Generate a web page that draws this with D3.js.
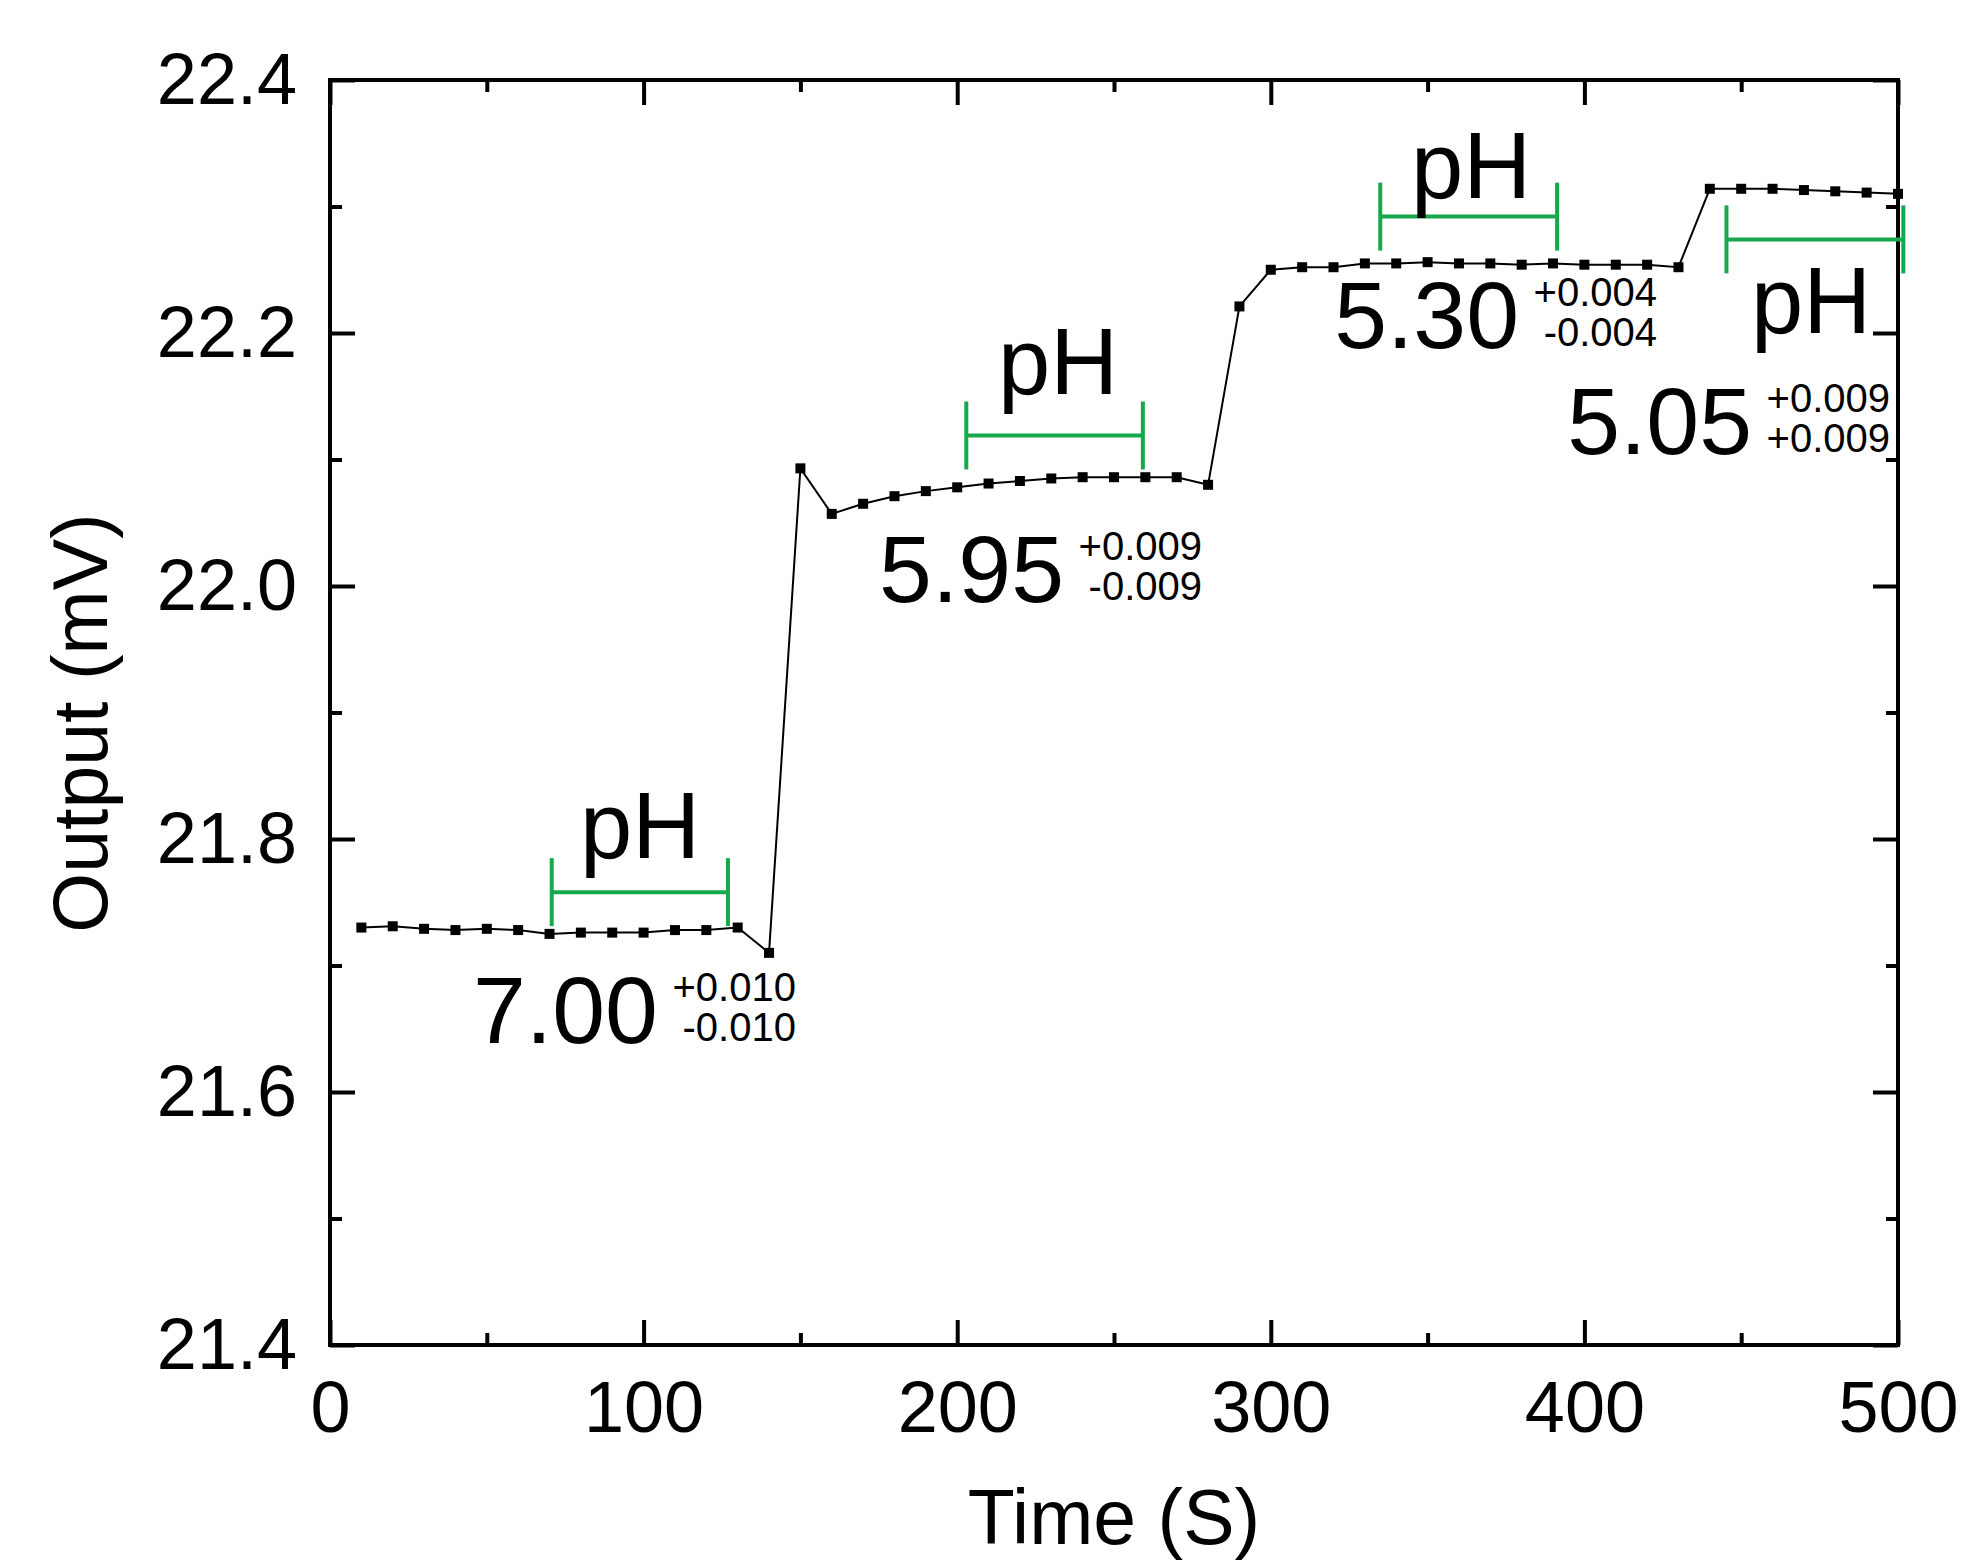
<!DOCTYPE html>
<html>
<head>
<meta charset="utf-8">
<script src="https://cdn.jsdelivr.net/npm/d3@7"></script>
<style>
  body { margin: 0; background: #fff; }
  svg { display: block; font-family: "Liberation Sans", Arial, sans-serif; }
</style>
</head>
<body>
<div id="chart"></div>
<script>
// data
var timeValues = [10, 20, 30, 40, 50, 60, 70, 80, 90, 100,
  110, 120, 130, 140, 150, 160, 170, 180, 190, 200,
  210, 220, 230, 240, 250, 260, 270, 280, 290, 300,
  310, 320, 330, 340, 350, 360, 370, 380, 390, 400,
  410, 420, 430, 440, 450, 460, 470, 480, 490, 500];
var outputValues = [21.730, 21.731, 21.729, 21.728, 21.729, 21.728, 21.725, 21.726, 21.726, 21.726,
  21.728, 21.728, 21.730, 21.710, 22.093, 22.057, 22.065, 22.071, 22.075, 22.078,
  22.081, 22.083, 22.085, 22.086, 22.086, 22.086, 22.086, 22.080, 22.221, 22.250,
  22.252, 22.252, 22.255, 22.255, 22.256, 22.255, 22.255, 22.254, 22.255, 22.254,
  22.254, 22.254, 22.252, 22.314, 22.314, 22.314, 22.313, 22.312, 22.311, 22.310];

var xTicks = [0, 100, 200, 300, 400, 500];
var xMinorTicks = [50, 150, 250, 350, 450];
var yTicks = [21.4, 21.6, 21.8, 22.0, 22.2, 22.4];
var yMinorTicks = [21.5, 21.7, 21.9, 22.1, 22.3];

// green brackets (time range + level)
var bracketStart = [70.7, 202.9, 334.9, 445.3];
var bracketEnd = [126.9, 259.2, 391.3, 501.7];
var bracketLevel = [21.758, 22.119, 22.292, 22.274];

// "pH" labels
var phLabelTime = [98.9, 232.2, 363.9, 472.3];
var phLabelLevel = [21.785, 22.152, 22.307, 22.200];

// pH values with errors
var phValues = ["7.00", "5.95", "5.30", "5.05"];
var errPlus = ["+0.010", "+0.009", "+0.004", "+0.009"];
var errMinus = ["-0.010", "-0.009", "-0.004", "+0.009"];
var phValueTime = [45.6, 175.1, 320.2, 394.5];
var phValueLevel = [21.639, 21.987, 22.188, 22.104];

// settings
var svgWidth = 1962;
var svgHeight = 1565;
var margin = { top: 80, right: 64, bottom: 220, left: 330 };
var width = svgWidth - margin.left - margin.right;
var height = svgHeight - margin.top - margin.bottom;
var green = "#17a84c";
var tickFont = 72;
var titleFont = 77;

var svg = d3.select("#chart").append("svg")
  .attr("width", svgWidth)
  .attr("height", svgHeight);

svg.append("rect").attr("width", svgWidth).attr("height", svgHeight).attr("fill", "#fff");

var chartGroup = svg.append("g")
  .attr("transform", `translate(${margin.left}, ${margin.top})`);

var x = d3.scaleLinear().domain([0, 500]).range([0, width]);
var y = d3.scaleLinear().domain([21.4, 22.4]).range([height, 0]);

// inward ticks on all four sides
function addAxis(axis, transform, labels) {
  var g = chartGroup.append("g")
    .attr("transform", transform)
    .call(axis);
  g.select(".domain").remove();
  g.selectAll(".tick line").attr("stroke", "#000").attr("stroke-width", 4);
  if (!labels) g.selectAll(".tick text").remove();
  return g;
}

var bottom = addAxis(d3.axisBottom(x).tickValues(xTicks).tickSize(-25).tickPadding(36)
  .tickFormat(d3.format("d")), `translate(0, ${height})`, true);
addAxis(d3.axisBottom(x).tickValues(xMinorTicks).tickSize(-12), `translate(0, ${height})`, false);
addAxis(d3.axisTop(x).tickValues(xTicks).tickSize(-25), "translate(0, 0)", false);
addAxis(d3.axisTop(x).tickValues(xMinorTicks).tickSize(-12), "translate(0, 0)", false);

var left = addAxis(d3.axisLeft(y).tickValues(yTicks).tickSize(-25).tickPadding(33)
  .tickFormat(d3.format(".1f")), "translate(0, 0)", true);
addAxis(d3.axisLeft(y).tickValues(yMinorTicks).tickSize(-12), "translate(0, 0)", false);
addAxis(d3.axisRight(y).tickValues(yTicks).tickSize(-25), `translate(${width}, 0)`, false);
addAxis(d3.axisRight(y).tickValues(yMinorTicks).tickSize(-12), `translate(${width}, 0)`, false);

bottom.selectAll(".tick text")
  .attr("font-size", tickFont).attr("font-family", null).attr("fill", "#000");
left.selectAll(".tick text")
  .attr("font-size", tickFont).attr("font-family", null).attr("fill", "#000");

// frame
chartGroup.append("rect")
  .attr("width", width).attr("height", height)
  .attr("fill", "none").attr("stroke", "#000").attr("stroke-width", 4);

// the series
var points = timeValues.map((t, i) => ({ t: t, v: outputValues[i] }));

chartGroup.append("path")
  .datum(points)
  .attr("fill", "none")
  .attr("stroke", "#000")
  .attr("stroke-width", 2)
  .attr("d", d3.line().x(d => x(d.t)).y(d => y(d.v)));

chartGroup.selectAll("rect.pt")
  .data(points)
  .enter()
  .append("rect")
  .attr("class", "pt")
  .attr("x", d => x(d.t) - 5)
  .attr("y", d => y(d.v) - 5)
  .attr("width", 10)
  .attr("height", 10)
  .attr("fill", "#000");

// green brackets
var brackets = bracketStart.map((s, i) => ({ s: s, e: bracketEnd[i], v: bracketLevel[i] }));
var bg = chartGroup.selectAll("g.bracket")
  .data(brackets)
  .enter()
  .append("g")
  .attr("class", "bracket")
  .attr("stroke", green)
  .attr("stroke-width", 4);
bg.append("line")
  .attr("x1", d => x(d.s)).attr("x2", d => x(d.e))
  .attr("y1", d => y(d.v)).attr("y2", d => y(d.v));
bg.append("line")
  .attr("x1", d => x(d.s)).attr("x2", d => x(d.s))
  .attr("y1", d => y(d.v) - 34).attr("y2", d => y(d.v) + 34);
bg.append("line")
  .attr("x1", d => x(d.e)).attr("x2", d => x(d.e))
  .attr("y1", d => y(d.v) - 34).attr("y2", d => y(d.v) + 34);

// "pH" labels
phLabelTime.forEach(function (t, i) {
  chartGroup.append("text")
    .attr("x", x(t))
    .attr("y", y(phLabelLevel[i]))
    .attr("text-anchor", "middle")
    .attr("font-size", 94)
    .text("pH");
});

// pH values with +/- errors
phValues.forEach(function (val, i) {
  var bx = x(phValueTime[i]);
  var by = y(phValueLevel[i]);
  var main = chartGroup.append("text")
    .attr("x", bx)
    .attr("y", by)
    .attr("font-size", 95)
    .text(val);
  var right = bx + main.node().getComputedTextLength();
  chartGroup.append("text")
    .attr("x", right + 138)
    .attr("y", by - 42)
    .attr("text-anchor", "end")
    .attr("font-size", 40)
    .text(errPlus[i]);
  chartGroup.append("text")
    .attr("x", right + 138)
    .attr("y", by - 2)
    .attr("text-anchor", "end")
    .attr("font-size", 40)
    .text(errMinus[i]);
});

// axis titles
svg.append("text")
  .attr("x", margin.left + width / 2)
  .attr("y", 1544)
  .attr("text-anchor", "middle")
  .attr("font-size", titleFont)
  .text("Time (S)");

svg.append("text")
  .attr("transform", "rotate(-90)")
  .attr("x", -723)
  .attr("y", 107)
  .attr("text-anchor", "middle")
  .attr("font-size", titleFont)
  .text("Output (mV)");
</script>
</body>
</html>
